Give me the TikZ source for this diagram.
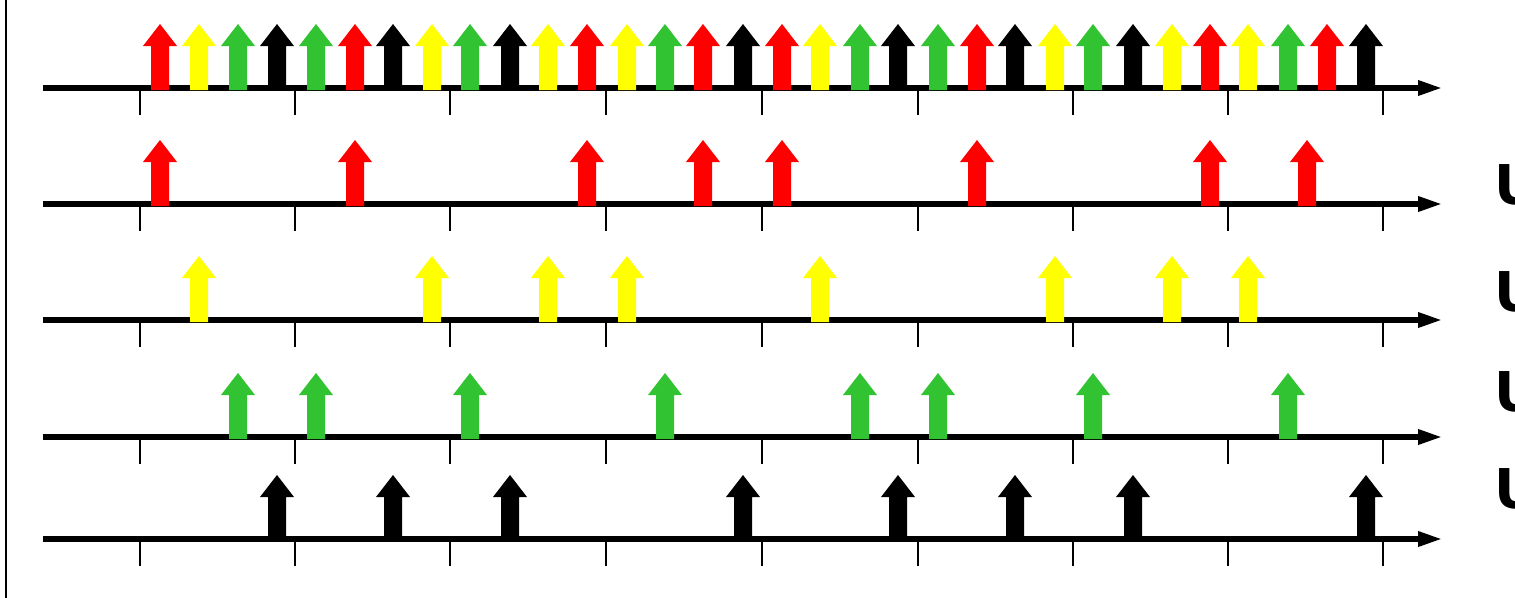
\documentclass[tikz,border=0pt]{standalone}
\usepackage{fontspec}
\usetikzlibrary{arrows.meta}
\newfontfamily\userfont{DejaVu Sans}
\definecolor{pulsered}{RGB}{255,0,0}
\definecolor{pulseyellow}{RGB}{255,255,0}
\definecolor{pulsegreen}{RGB}{50,195,50}
\def\pulse(#1,#2)#3{\fill[#3] (#1-9,#2+2) -- (#1-9,#2-42) -- (#1-17,#2-42) -- (#1,#2-64) -- (#1+17,#2-42) -- (#1+9,#2-42) -- (#1+9,#2+2) -- cycle;}
\def\timeline(#1){\draw[line width=1.3mm, -{Triangle[length=6mm,width=3.6mm]}] (43,#1) -- (1442,#1);
	\foreach \t in {140,295,450,606,762,918,1073,1228,1383} \draw[line width=0.7mm] (\t,#1) -- (\t,#1+27);}
\tikzset{userlabel/.style={anchor=base west, inner sep=0, font=\userfont\bfseries\fontsize{39}{39}\selectfont}}

\begin{document}
\begin{tikzpicture}[x=0.25mm, y=-0.25mm]
			%%%%% START %%%%%
			
			\useasboundingbox (0, 0) rectangle (1515, 598);
			\clip (0, 0) rectangle (1515, 598);
			\draw[line width=0.6mm] (6, 0) -- (6, 598);
			
			\timeline(88)
			\timeline(204)
			\timeline(320)
			\timeline(437)
			\timeline(539)
			
			% all users
			\pulse(160, 88){pulsered}
			\pulse(199, 88){pulseyellow}
			\pulse(238, 88){pulsegreen}
			\pulse(277, 88){black}
			\pulse(316, 88){pulsegreen}
			\pulse(355, 88){pulsered}
			\pulse(393, 88){black}
			\pulse(432, 88){pulseyellow}
			\pulse(470, 88){pulsegreen}
			\pulse(510, 88){black}
			\pulse(548, 88){pulseyellow}
			\pulse(587, 88){pulsered}
			\pulse(627, 88){pulseyellow}
			\pulse(665, 88){pulsegreen}
			\pulse(703, 88){pulsered}
			\pulse(743, 88){black}
			\pulse(782, 88){pulsered}
			\pulse(820, 88){pulseyellow}
			\pulse(860, 88){pulsegreen}
			\pulse(898, 88){black}
			\pulse(938, 88){pulsegreen}
			\pulse(977, 88){pulsered}
			\pulse(1015, 88){black}
			\pulse(1055, 88){pulseyellow}
			\pulse(1093, 88){pulsegreen}
			\pulse(1133, 88){black}
			\pulse(1172, 88){pulseyellow}
			\pulse(1210, 88){pulsered}
			\pulse(1248, 88){pulseyellow}
			\pulse(1288, 88){pulsegreen}
			\pulse(1327, 88){pulsered}
			\pulse(1366, 88){black}
			
			% red user
			\pulse(160, 204){pulsered}
			\pulse(355, 204){pulsered}
			\pulse(587, 204){pulsered}
			\pulse(703, 204){pulsered}
			\pulse(782, 204){pulsered}
			\pulse(977, 204){pulsered}
			\pulse(1210, 204){pulsered}
			\pulse(1307, 204){pulsered}
			\node[userlabel] (u1) at (1494, 204) {U};
			
			% yellow user
			\pulse(199, 320){pulseyellow}
			\pulse(432, 320){pulseyellow}
			\pulse(548, 320){pulseyellow}
			\pulse(627, 320){pulseyellow}
			\pulse(820, 320){pulseyellow}
			\pulse(1055, 320){pulseyellow}
			\pulse(1172, 320){pulseyellow}
			\pulse(1248, 320){pulseyellow}
			\node[userlabel] (u2) at (1494, 311) {U};
			
			% green user
			\pulse(238, 437){pulsegreen}
			\pulse(316, 437){pulsegreen}
			\pulse(470, 437){pulsegreen}
			\pulse(665, 437){pulsegreen}
			\pulse(860, 437){pulsegreen}
			\pulse(938, 437){pulsegreen}
			\pulse(1093, 437){pulsegreen}
			\pulse(1288, 437){pulsegreen}
			\node[userlabel] (u3) at (1494, 411) {U};
			
			% black user
			\pulse(277, 539){black}
			\pulse(393, 539){black}
			\pulse(510, 539){black}
			\pulse(743, 539){black}
			\pulse(898, 539){black}
			\pulse(1015, 539){black}
			\pulse(1133, 539){black}
			\pulse(1366, 539){black}
			\node[userlabel] (u4) at (1494, 508) {U};
			
			%%%%% END %%%%%
\end{tikzpicture}
\end{document}
